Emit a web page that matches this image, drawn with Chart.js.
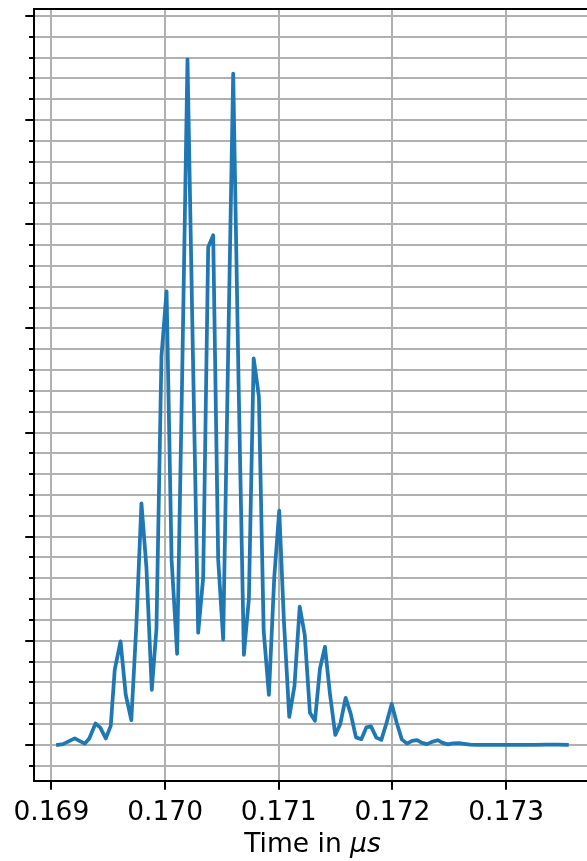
<!DOCTYPE html>
<html>
<head>
<meta charset="utf-8">
<script src="https://cdn.jsdelivr.net/npm/chart.js@4"></script>
<style>
  html, body { margin: 0; padding: 0; background: #fff; overflow: hidden; }
</style>
</head>
<body>
<canvas id="canvas_chart" width="592" height="861"></canvas>
<script>
// time axis in µs, amplitude in arbitrary units (one unit per major y tick)
const times = [
    0.169058, 0.169102, 0.169205, 0.169293, 0.169333, 0.169388, 0.169430, 0.169478,
    0.169522, 0.169557, 0.169608, 0.169654, 0.169703, 0.169747, 0.169792, 0.169836,
    0.169883, 0.169924, 0.169968, 0.170013, 0.170057, 0.170106, 0.170151, 0.170197,
    0.170244, 0.170291, 0.170335, 0.170379, 0.170423, 0.170467, 0.170511, 0.170555,
    0.170599, 0.170646, 0.170693, 0.170737, 0.170779, 0.170825, 0.170867, 0.170913,
    0.170960, 0.171004, 0.171045, 0.171092, 0.171138, 0.171184, 0.171228, 0.171274,
    0.171318, 0.171362, 0.171406, 0.171450, 0.171497, 0.171541, 0.171588, 0.171633,
    0.171679, 0.171726, 0.171770, 0.171811, 0.171858, 0.171902, 0.171948, 0.171993,
    0.172037, 0.172082, 0.172128, 0.172172, 0.172216, 0.172260, 0.172304, 0.172348,
    0.172397, 0.172441, 0.172489, 0.172533, 0.172586, 0.172630, 0.172683, 0.172750,
    0.172850, 0.172950, 0.173050, 0.173150, 0.173250, 0.173350, 0.173450, 0.173534
];
const amplitude = [
    0.000, 0.007, 0.062, 0.012, 0.062, 0.205, 0.166, 0.062,
    0.183, 0.721, 0.995, 0.481, 0.238, 1.144, 2.320, 1.702,
    0.529, 1.115, 3.731, 4.356, 1.779, 0.875, 3.596, 6.584,
    3.788, 1.077, 1.606, 4.779, 4.894, 1.779, 1.010, 3.788,
    6.447, 3.500, 0.865, 1.404, 3.712, 3.346, 1.096, 0.481,
    1.606, 2.250, 1.192, 0.269, 0.567, 1.327, 1.058, 0.308,
    0.231, 0.731, 0.942, 0.490, 0.096, 0.202, 0.452, 0.298,
    0.072, 0.055, 0.168, 0.178, 0.070, 0.048, 0.212, 0.394,
    0.212, 0.053, 0.012, 0.038, 0.045, 0.019, 0.007, 0.029,
    0.045, 0.019, 0.005, 0.014, 0.016, 0.010, 0.002, 0.001,
    0.000, 0.000, 0.000, 0.000, 0.001, 0.003, 0.002, 0.000
];
const xTickValues = [0.169, 0.170, 0.171, 0.172, 0.173];
const xTickLabels = ['0.169', '0.170', '0.171', '0.172', '0.173'];

const FONT = "'DejaVu Sans', sans-serif";
const FONT_SIZE = 26.5;

// left ticks (long at whole units, short at minor), top spine and mixed-style axis label
const framePlugin = {
    id: 'frame',
    afterDraw(chart) {
        const c = chart.ctx;
        const a = chart.chartArea;
        const y = chart.scales.y;
        c.save();
        c.strokeStyle = '#000';
        c.lineWidth = 2;
        c.beginPath();
        c.moveTo(a.left - 1, a.top);
        c.lineTo(a.right + 1, a.top);
        c.stroke();
        y.ticks.forEach(t => {
            const py = Math.round(y.getPixelForValue(t.value));
            const major = Math.abs(t.value - Math.round(t.value)) < 1e-6;
            const len = major ? 8.75 : 5;
            c.beginPath();
            c.moveTo(a.left - len, py);
            c.lineTo(a.left, py);
            c.stroke();
        });
        // axis label: "Time in " upright, "μs" italic
        const cx = (a.left + a.right) / 2;
        const ty = a.bottom + 64;
        c.fillStyle = '#000';
        c.textBaseline = 'middle';
        c.textAlign = 'left';
        c.font = FONT_SIZE + 'px ' + FONT;
        const p1 = 'Time in ';
        const w1 = c.measureText(p1).width;
        c.font = 'italic ' + FONT_SIZE + 'px ' + FONT;
        const p2 = 'μs';
        const w2 = c.measureText(p2).width;
        const x0 = cx - (w1 + w2) / 2;
        c.font = FONT_SIZE + 'px ' + FONT;
        c.fillText(p1, x0, ty);
        c.font = 'italic ' + FONT_SIZE + 'px ' + FONT;
        c.fillText(p2, x0 + w1, ty);
        c.restore();
    }
};

new Chart(document.getElementById('canvas_chart'), {
    type: 'line',
    data: {
        datasets: [{
            data: times.map((t, i) => ({ x: t, y: amplitude[i] })),
            borderColor: '#1f77b4',
            borderWidth: 3.75,
            borderJoinStyle: 'round',
            borderCapStyle: 'square',
            pointRadius: 0,
            tension: 0,
            fill: false
        }]
    },
    options: {
        responsive: false,
        animation: false,
        devicePixelRatio: 1,
        layout: { padding: { left: 34, right: 1, top: 9, bottom: 1 } },
        plugins: {
            legend: { display: false },
            tooltip: { enabled: false }
        },
        scales: {
            x: {
                type: 'linear',
                min: 0.168847,
                max: 0.173746,
                afterBuildTicks: (scale) => {
                    scale.ticks = xTickValues.map(v => ({ value: v }));
                },
                ticks: {
                    font: { family: FONT, size: FONT_SIZE },
                    color: '#000',
                    padding: 8,
                    maxRotation: 0,
                    callback: (v, i) => xTickLabels[i]
                },
                grid: {
                    color: '#b0b0b0',
                    lineWidth: 2,
                    drawTicks: true,
                    tickLength: 8.75,
                    tickColor: '#000',
                    tickWidth: 2
                },
                border: { display: true, color: '#000', width: 2 },
                title: {
                    display: true,
                    text: ' ',
                    font: { family: FONT, size: FONT_SIZE, lineHeight: 0.85 },
                    padding: { top: 0, bottom: 0 }
                }
            },
            y: {
                min: -0.346,
                max: 7.067,
                afterBuildTicks: (scale) => {
                    const ticks = [];
                    for (let k = -1; k <= 35; k++) ticks.push({ value: k * 0.2 });
                    scale.ticks = ticks;
                },
                ticks: { display: false },
                grid: {
                    color: '#b0b0b0',
                    lineWidth: 2,
                    drawTicks: false
                },
                border: { display: true, color: '#000', width: 2 }
            }
        }
    },
    plugins: [framePlugin]
});
</script>
</body>
</html>
